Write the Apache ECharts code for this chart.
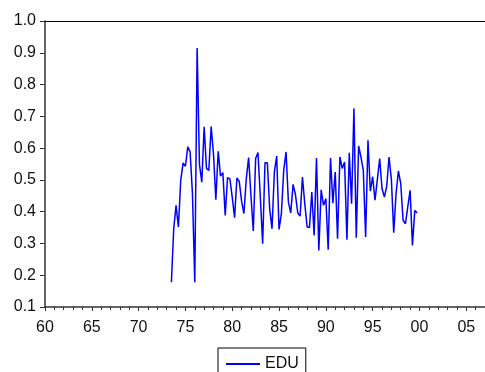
<!DOCTYPE html>
<html>
<head>
<meta charset="utf-8">
<script src="https://cdn.jsdelivr.net/npm/echarts@6/dist/echarts.min.js"></script>
<style>
html,body{margin:0;padding:0;background:#fff;}
#chart{width:485px;height:372px;}
</style>
</head>
<body>
<div id="chart"></div>
<script>
// Quarterly series EDU, 1973Q3 - 1999Q4
var seriesName = "EDU";
var startYear = 1973.5;   // 1973Q3
var periodsPerYear = 4;
var eduValues = [
  0.178, 0.346, 0.420, 0.352, 0.499, 0.553, 0.543, 0.604, 0.588, 0.457,
  0.178, 0.915, 0.548, 0.493, 0.667, 0.536, 0.530, 0.668, 0.580, 0.438,
  0.590, 0.512, 0.523, 0.388, 0.507, 0.503, 0.446, 0.381, 0.506, 0.495,
  0.433, 0.394, 0.503, 0.570, 0.450, 0.339, 0.567, 0.586, 0.446, 0.299,
  0.554, 0.554, 0.409, 0.346, 0.525, 0.575, 0.344, 0.394, 0.530, 0.588,
  0.430, 0.396, 0.486, 0.454, 0.396, 0.386, 0.509, 0.425, 0.352, 0.350,
  0.462, 0.325, 0.569, 0.278, 0.469, 0.420, 0.441, 0.280, 0.569, 0.427,
  0.525, 0.315, 0.572, 0.536, 0.556, 0.312, 0.585, 0.425, 0.725, 0.318,
  0.607, 0.572, 0.530, 0.320, 0.625, 0.465, 0.510, 0.436, 0.501, 0.567,
  0.473, 0.446, 0.480, 0.572, 0.501, 0.334, 0.457, 0.528, 0.488, 0.373,
  0.362, 0.415, 0.467, 0.294, 0.404, 0.396
];
var xMin = 1960, xMax = 2007, xStep = 5;
var yMin = 0.1, yMax = 1.0, yStep = 0.1;

var points = eduValues.map(function (v, i) {
  return [startYear + i / periodsPerYear, v];
});

var font = "Liberation Sans, Arial, sans-serif";
var chart = echarts.init(document.getElementById('chart'), null, {renderer: 'canvas'});
chart.setOption({
  animation: false,
  backgroundColor: '#fff',
  grid: {left: 45, top: 21, width: 442, bottom: 65, show: false},
  xAxis: [{
    type: 'value', min: xMin, max: xMax, interval: xStep, position: 'bottom',
    axisLine: {show: true, onZero: false, lineStyle: {color: '#333', width: 1.5}},
    axisTick: {show: true, length: 4, lineStyle: {color: '#333', width: 1}},
    minorTick: {show: true, splitNumber: 5, length: 3, lineStyle: {color: '#333', width: 1}},
    splitLine: {show: false},
    axisLabel: {
      show: true, margin: 13, color: '#111', fontFamily: font, fontSize: 16,
      showMaxLabel: false,
      formatter: function (v) { var s = String(Math.round(v) % 100); return s.length < 2 ? '0' + s : s; }
    }
  }, {
    type: 'value', min: xMin, max: xMax, position: 'top',
    axisLine: {show: true, onZero: false, lineStyle: {color: '#000', width: 1}},
    axisTick: {show: false}, axisLabel: {show: false}, splitLine: {show: false}
  }],
  yAxis: {
    type: 'value', min: yMin, max: yMax, interval: yStep,
    axisLine: {show: true, onZero: false, lineStyle: {color: '#333', width: 1.5}},
    axisTick: {show: true, length: 5, lineStyle: {color: '#333', width: 1}},
    splitLine: {show: false},
    axisLabel: {
      show: true, margin: 9, color: '#111', fontFamily: font, fontSize: 16,
      showMinLabel: true, showMaxLabel: true,
      formatter: function (v) { return v.toFixed(1); }
    }
  },
  legend: {
    show: true, left: 218, top: 348,
    data: [{name: seriesName, icon: 'rect'}],
    itemWidth: 34, itemHeight: 2,
    borderColor: '#000', borderWidth: 1, borderRadius: 0,
    padding: [8, 7, 12, 8],
    backgroundColor: '#fff',
    textStyle: {color: '#111', fontFamily: font, fontSize: 16}
  },
  series: [{
    name: seriesName, type: 'line', data: points, xAxisIndex: 0,
    showSymbol: false, symbol: 'none',
    lineStyle: {color: '#0000ff', width: 1.5},
    itemStyle: {color: '#0000ff'}
  }]
});
</script>
</body>
</html>
